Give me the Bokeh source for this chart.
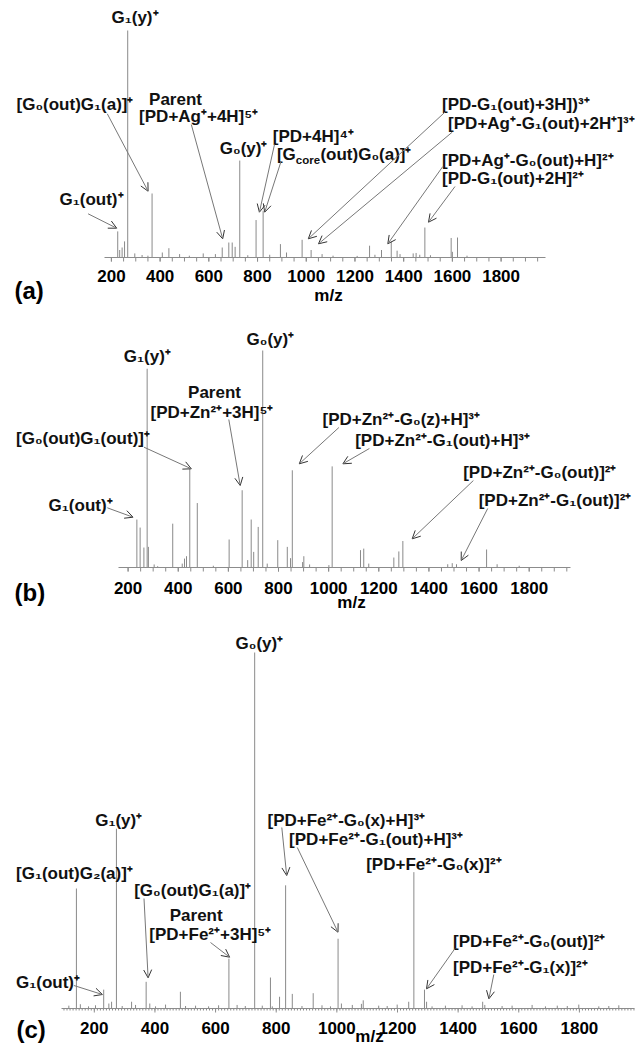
from bokeh.plotting import figure
from bokeh.models import Range1d, Label, Arrow, OpenHead
from bokeh.layouts import column
from bokeh.core.properties import value
from bokeh.embed import file_html
from bokeh.resources import INLINE

# ---------------- data (m/z, relative intensity) ----------------
tick_values = [200, 400, 600, 800, 1000, 1200, 1400, 1600, 1800]
tick_labels = ["200", "400", "600", "800", "1000", "1200", "1400", "1600", "1800"]

a_mz = [226, 234, 244, 254, 267,
        296, 326, 350, 367, 409,
        436, 480, 520, 577, 627,
        655, 682, 696, 708, 727,
        760, 794, 823, 850, 894,
        919, 983, 1020, 1065, 1110,
        1209, 1260, 1282, 1309, 1349,
        1373, 1385, 1439, 1451, 1466,
        1487, 1510, 1595, 1600, 1621,
        1660]
a_int = [11.5, 3.3, 4.4, 7.1, 100,
         1.8, 1.1, 0.8, 28.2, 2.2,
         4.1, 1.5, 0.8, 1.8, 1.5,
         4.4, 6.6, 6.6, 4.7, 42.7,
         1.0, 16.5, 20.6, 1.2, 5.9,
         2.2, 7.8, 3.3, 1.5, 0.8,
         0.7, 5.2, 1.2, 3.3, 7.1,
         3.0, 1.5, 1.8, 2.0, 1.2,
         13.2, 1.0, 8.6, 2.5, 8.8,
         0.8]

b_mz = [235, 248, 263, 276, 281,
        304, 318, 378, 416, 425,
        433, 446, 476, 540, 603,
        655, 677, 691, 701, 719,
        737, 755, 797, 835, 848,
        855, 896, 901, 924, 1001,
        1014, 1127, 1140, 1160, 1260,
        1280, 1296, 1475, 1493, 1510,
        1630, 1672, 1760]
b_int = [22.1, 18.4, 9.2, 91.6, 9.5,
         1.4, 0.6, 20.2, 1.8, 4.1,
         5.2, 45.6, 29.7, 0.8, 12.9,
         35.6, 3.4, 22.1, 7.2, 18.7,
         100, 1.8, 12.6, 9.5, 4.3,
         44.8, 2.5, 5.2, 1.4, 1.1,
         46.6, 8.0, 8.7, 1.8, 4.6,
         7.4, 12.2, 1.5, 2.0, 1.5,
         8.3, 1.5, 0.8]

c_mz = [141, 231, 248, 257, 273,
        323, 371, 383, 484, 644,
        729, 781, 811, 831, 853,
        922, 1004, 1015, 1087, 1237,
        1254, 1289, 1296, 1481, 1488]
c_int = [33.7, 5.3, 1.4, 1.9, 50.5,
         1.9, 7.5, 1.4, 4.7, 14.0,
         100, 8.7, 3.3, 34.6, 4.1,
         4.3, 19.6, 1.4, 2.3, 1.9,
         38.3, 5.3, 1.9, 1.9, 1.0]
# small baseline peaks of spectrum (c)
c_small_mz = [116, 154, 181, 204, 292, 336, 402, 435, 501, 534,
              577, 610, 671, 698, 754, 787, 885, 951, 979, 1051,
              1081, 1138, 1166, 1199, 1314, 1358, 1413, 1446, 1545, 1578,
              1644, 1688, 1727, 1760, 1798, 1864, 1897, 1930]
c_small_int = [0.8, 1.2, 0.6, 0.9, 0.7, 1.0, 0.6, 1.1, 0.7, 0.8,
               0.6, 0.9, 1.0, 0.7, 0.8, 0.6, 0.7, 0.9, 0.6, 1.0,
               1.3, 0.8, 0.7, 1.1, 0.6, 0.8, 0.9, 0.6, 0.7, 0.8,
               1.0, 0.6, 0.8, 0.7, 1.1, 0.6, 0.7, 0.9]

FONT = "Liberation Sans"
PEAK = "#8a8a8a"
AX = "#8c8c8c"
FS = "17px"

# ---------------- layout (page pixels) ----------------
geo_a = dict(top=0, height=312, ax_left=104, ax_right=545, base=257, full=30,
             x200=110.9, x1800=500.6, lab_y=275, minor=50, minor_out=4,
             letter=(14, 290), mz=(328, 295, "middle"))
geo_b = dict(top=312, height=316, ax_left=118, ax_right=570, base=567, full=350,
             x200=127.6, x1800=528.7, lab_y=587, minor=50, minor_out=4,
             letter=(14, 592), mz=(351, 602, "middle"))
geo_c = dict(top=628, height=417, ax_left=61, ax_right=634, base=1008, full=652,
             x200=93.8, x1800=578.9, lab_y=1027, minor=10, minor_out=2,
             letter=(16, 1029), mz=(369, 1045, "bottom"))

texts_a = [
    ("G₁(y)⁺", 134.5, 17, "center"),
    ("[G₀(out)G₁(a)]⁺", 16, 104, "left"),
    ("G₁(out)⁺", 59, 199, "left"),
    ("Parent", 175, 99, "center"),
    ("[PD+Ag⁺+4H]⁵⁺", 138.6, 116, "left"),
    ("G₀(y)⁺", 219.3, 148, "left"),
    ("[PD+4H]⁴⁺", 272.3, 136, "left"),
    ("[PD-G₁(out)+3H])³⁺", 441.5, 104, "left"),
    ("[PD+Ag⁺-G₁(out)+2H⁺]³⁺", 447.6, 123, "left"),
    ("[PD+Ag⁺-G₀(out)+H]²⁺", 441.5, 160, "left"),
    ("[PD-G₁(out)+2H]²⁺", 441.5, 178, "left"),
]
rich_a = [(276.4, 154, [("[G", 0, 0, 17), ("core", 18.9, -5, 11.5),
                        ("(out)G₀(a)]⁺", 43.5, 0, 17)])]
arrows_a = [
    (87.6, 213.3, 116.2, 227.7),
    (106.8, 113.3, 147.6, 190.7),
    (190.8, 124, 222.2, 238.3),
    (274, 144, 258.9, 211.7),
    (280.5, 161, 264.2, 211.7),
    (444.4, 111.7, 307.8, 238.3),
    (451.7, 131.7, 318, 243.3),
    (442.3, 166, 387.3, 243.3),
    (454.5, 186, 428, 221.7),
]

texts_b = [
    ("G₁(y)⁺", 146.8, 356, "center"),
    ("G₀(y)⁺", 269.9, 339.3, "center"),
    ("Parent", 214, 391.7, "center"),
    ("[PD+Zn²⁺+3H]⁵⁺", 150, 411.7, "left"),
    ("[G₀(out)G₁(out)]⁺", 15.5, 438.3, "left"),
    ("[PD+Zn²⁺-G₀(z)+H]³⁺", 322, 419.3, "left"),
    ("[PD+Zn²⁺-G₁(out)+H]³⁺", 354.7, 440, "left"),
    ("[PD+Zn²⁺-G₀(out)]²⁺", 462.7, 471.7, "left"),
    ("[PD+Zn²⁺-G₁(out)]²⁺", 478.2, 500, "left"),
    ("G₁(out)⁺", 48.1, 505, "left"),
]
arrows_b = [
    (106.8, 507.3, 132.5, 516.7),
    (143.5, 446.7, 190.8, 468.3),
    (228.3, 419, 239.7, 485),
    (338.4, 427, 298.8, 463.3),
    (368.9, 448, 342.4, 463.3),
    (472.9, 480, 411.7, 538.3),
    (487.2, 508, 460.7, 560),
]

texts_c = [
    ("G₀(y)⁺", 258.9, 643, "center"),
    ("G₁(y)⁺", 118.2, 820, "center"),
    ("[G₁(out)G₂(a)]⁺", 15.5, 873.3, "left"),
    ("[G₀(out)G₁(a)]⁺", 133.7, 890, "left"),
    ("Parent", 195.7, 915, "center"),
    ("[PD+Fe²⁺+3H]⁵⁺", 148.8, 934, "left"),
    ("[PD+Fe²⁺-G₀(x)+H]³⁺", 267, 820, "left"),
    ("[PD+Fe²⁺-G₁(out)+H]³⁺", 288.6, 839.3, "left"),
    ("[PD+Fe²⁺-G₀(x)]²⁺", 365.7, 864, "left"),
    ("[PD+Fe²⁺-G₀(out)]²⁺", 452.5, 941, "left"),
    ("[PD+Fe²⁺-G₁(x)]²⁺", 452.5, 967, "left"),
    ("G₁(out)⁺", 15.5, 981.7, "left"),
]
arrows_c = [
    (73.4, 985, 101.9, 994),
    (143.5, 898, 147.6, 977.3),
    (210, 942, 229.1, 956.7),
    (281.3, 827, 286.2, 875),
    (296.8, 847, 337.5, 931.7),
    (454.5, 948, 426, 988.3),
    (493.3, 974, 488.4, 998.3),
]


def make_panel(mz, inten, g, texts, arrows, letter, rich=(), small=None):
    sc = (g["x1800"] - g["x200"]) / 1600.0

    def X(px):
        return 200 + (px - g["x200"]) / sc

    pxu = (g["base"] - g["full"]) / 100.0

    def Y(py):
        return (g["base"] - py) / pxu

    p = figure(width=636, height=g["height"], title=None,
               x_range=Range1d(X(0), X(636)),
               y_range=Range1d(Y(g["top"] + g["height"]), Y(g["top"])),
               output_backend="svg", toolbar_location=None,
               x_axis_location=None, y_axis_location=None, min_border=0)
    p.xgrid.visible = False
    p.ygrid.visible = False
    p.outline_line_color = None

    # spectrum
    if small is not None:
        p.segment(x0=small[0], y0=[0] * len(small[0]), x1=small[0], y1=small[1],
                  line_color=PEAK, line_width=1)
    p.segment(x0=mz, y0=[0] * len(mz), x1=mz, y1=inten, line_color=PEAK, line_width=1)

    # m/z axis drawn on the plot's own scales
    xs, xe = X(g["ax_left"]), X(g["ax_right"])
    p.segment(x0=[xs], y0=[0], x1=[xe], y1=[0], line_color=AX, line_width=1)
    minor = [m for m in range(0, 2001, g["minor"]) if xs <= m <= xe]
    p.segment(x0=minor, y0=[0] * len(minor), x1=minor,
              y1=[-g["minor_out"] / pxu] * len(minor), line_color=AX, line_width=1)
    p.segment(x0=tick_values, y0=[0] * len(tick_values), x1=tick_values,
              y1=[-4 / pxu] * len(tick_values), line_color=AX, line_width=1)
    p.text(x=tick_values, y=[Y(g["lab_y"])] * len(tick_values), text=tick_labels,
           text_align="center", text_baseline="middle", text_font=value(FONT),
           text_font_style="bold", text_font_size=FS, text_color="#000000")
    mzx, mzy, mzb = g["mz"]
    p.text(x=[X(mzx)], y=[Y(mzy)], text=["m/z"], text_align="center",
           text_baseline=mzb, text_font=value(FONT), text_font_style="bold",
           text_font_size=FS, text_color="#000000")
    p.text(x=[X(g["letter"][0])], y=[Y(g["letter"][1])], text=[letter],
           text_align="left", text_baseline="middle", text_font=value(FONT),
           text_font_style="bold", text_font_size="24px", text_color="#000000")

    for txt, px, py, al in texts:
        p.add_layout(Label(x=X(px), y=Y(py), text=txt, text_align=al,
                           text_baseline="middle", text_font=FONT,
                           text_font_style="bold", text_font_size=FS,
                           text_color="#111111"))
    for px, py, parts in rich:
        for txt, dx, dy, fs in parts:
            p.add_layout(Label(x=X(px), y=Y(py), x_offset=dx, y_offset=dy, text=txt,
                               text_align="left", text_baseline="middle",
                               text_font=FONT, text_font_style="bold",
                               text_font_size=f"{fs}px", text_color="#111111"))
    for x0, y0, x1, y1 in arrows:
        p.add_layout(Arrow(start=None,
                           end=OpenHead(size=8, line_color="#333333", line_width=1),
                           x_start=X(x0), y_start=Y(y0), x_end=X(x1), y_end=Y(y1),
                           line_color="#777777", line_width=1))
    return p


pa = make_panel(a_mz, a_int, geo_a, texts_a, arrows_a, "(a)", rich=rich_a)
pb = make_panel(b_mz, b_int, geo_b, texts_b, arrows_b, "(b)")
pc = make_panel(c_mz, c_int, geo_c, texts_c, arrows_c, "(c)",
                small=(c_small_mz, c_small_int))

layout = column(pa, pb, pc)
open("out.html", "w").write(file_html(layout, INLINE))
